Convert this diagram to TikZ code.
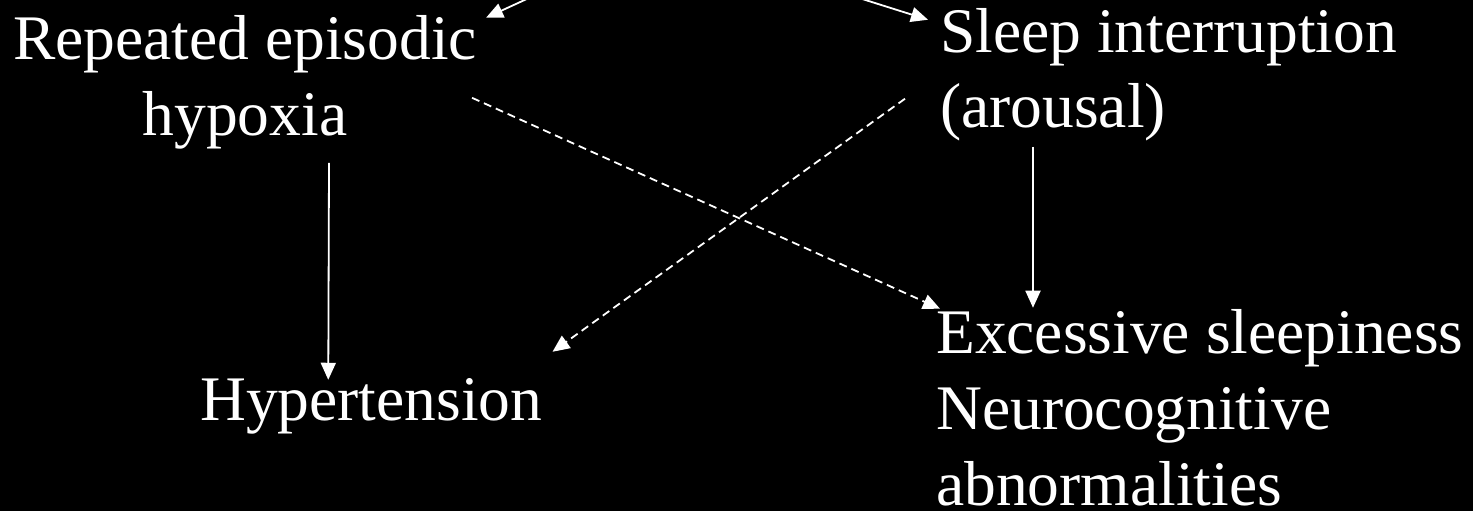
\documentclass[tikz,border=0pt]{standalone}
\usepackage{fontspec}
\setmainfont{Liberation Serif}
\usetikzlibrary{arrows.meta,calc}
\begin{document}
\begin{tikzpicture}[x=1pt,y=-1pt,
  lbl/.style={text=white, inner sep=0pt, font=\fontsize{63.5}{76}\selectfont},
  arr/.style={draw=white, line width=1.8pt, -{Triangle[length=17pt,width=15pt]}},
  darr/.style={arr, dash pattern=on 8pt off 5pt}]
\useasboundingbox (0,0) rectangle (1473,511);
\fill[black] (0,0) rectangle (1473,511);
\clip (0,0) rectangle (1473,511);
\node[lbl, align=center, anchor=base] (rep) at (245,135) {Repeated episodic\\hypoxia};
\node[lbl, align=left, anchor=base west] (slp) at (940,128) {Sleep interruption\\(arousal)};
\node[lbl, anchor=base west] (hyp) at (200,420) {Hypertension};
\node[lbl, align=left, anchor=base west] (exc) at (936,505) {Excessive sleepiness\\Neurocognitive\\abnormalities};
\coordinate (topL) at (568,-20);
\coordinate (topR) at (802,-20);
\draw[arr] (topL) -- ($(rep.north east)+(9,3)$);
\draw[arr] (topR) -- ($(slp.north west)+(-12,12)$);
\draw[arr] ($(rep.south)+(84,14)$) -- ($(hyp.north)+(-43,2)$);
\draw[arr] ($(slp.south west)+(93,5)$) -- ($(exc.north west)+(97,-1)$);
\draw[darr] ($(rep.east)+(-5,16)$) -- ($(exc.north west)+(4,0)$);
\draw[darr] ($(slp.west)+(-35,24)$) -- ($(hyp.north east)+(10,-26)$);
\end{tikzpicture}
\end{document}
